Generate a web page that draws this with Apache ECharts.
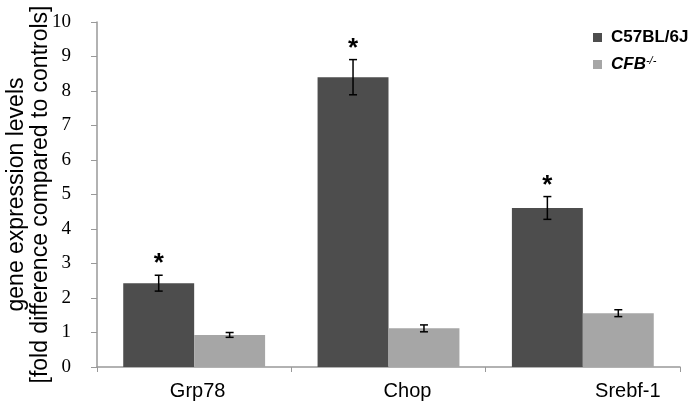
<!DOCTYPE html>
<html>
<head>
<meta charset="utf-8">
<script src="https://cdn.jsdelivr.net/npm/echarts@6/dist/echarts.min.js"></script>
<style>
  html, body { margin: 0; padding: 0; background: #fff; }
  #chart { width: 693px; height: 406px; }
</style>
</head>
<body>
<div id="chart"></div>
<script>
const categories = ['Grp78', 'Chop', 'Srebf-1'];
const labelShift = [7, 38, 90];   // Excel-style off-centre labels (left padding)
const wildType = [2.43, 8.40, 4.61];
const wildTypeErr = [0.23, 0.51, 0.33];
const knockout = [0.93, 1.12, 1.56];
const knockoutErr = [0.07, 0.10, 0.10];
const significant = [true, true, true];
const yTicks = [0, 1, 2, 3, 4, 5, 6, 7, 8, 9, 10];

const DARK = '#4d4d4d';
const LIGHT = '#a6a6a6';
const AXIS = '#999999';
const CAT_GAP = 0.27;

function errorBars(values, errs, side, stars) {
    return {
        type: 'custom',
        silent: true,
        z: 5,
        data: values.map((v, i) => [i, v, errs[i], stars ? (stars[i] ? 1 : 0) : 0]),
        renderItem: function(params, api) {
            const idx = api.value(0);
            const band = api.size([1, 0])[0];
            const bw = band * (1 - CAT_GAP) / 2;
            const c = api.coord([idx, 0]);
            const x = c[0] + side * bw / 2;
            const top = api.coord([idx, api.value(1) + api.value(2)])[1];
            const bot = api.coord([idx, api.value(1) - api.value(2)])[1];
            const cap = 4;
            const st = { stroke: '#000', lineWidth: 1.5 };
            const children = [
                { type: 'line', shape: { x1: x, y1: top, x2: x, y2: bot }, style: st },
                { type: 'line', shape: { x1: x - cap, y1: top, x2: x + cap, y2: top }, style: st },
                { type: 'line', shape: { x1: x - cap, y1: bot, x2: x + cap, y2: bot }, style: st }
            ];
            if (api.value(3)) {
                children.push({
                    type: 'text',
                    style: {
                        text: '*', x: x, y: top - 11,
                        fill: '#000', font: 'bold 26px "Liberation Sans", Arial, sans-serif',
                        align: 'center', verticalAlign: 'middle'
                    }
                });
            }
            return { type: 'group', children: children };
        }
    };
}

const chart = echarts.init(document.getElementById('chart'));

chart.setOption({
    backgroundColor: '#fff',
    animation: false,
    grid: { left: 97, right: 13, top: 22, bottom: 39, containLabel: false, outerBoundsMode: 'none' },
    legend: {
        orient: 'vertical',
        left: 588,
        top: 24,
        itemWidth: 9,
        itemHeight: 9,
        itemGap: 9,
        icon: 'rect',
        data: ['C57BL/6J', 'CFB'],
        formatter: function(name) {
            return name === 'CFB' ? '{i|CFB}{s|-/-}' : '{b|' + name + '}';
        },
        textStyle: {
            color: '#000',
            padding: [0, 0, 0, 4],
            rich: {
                b: { fontFamily: '"Liberation Sans", Arial', fontWeight: 'bold', fontSize: 17, color: '#000' },
                i: { fontFamily: '"Liberation Sans", Arial', fontWeight: 'bold', fontStyle: 'italic', fontSize: 17, color: '#000' },
                s: { fontFamily: '"Liberation Sans", Arial', fontStyle: 'italic', fontSize: 11, color: '#000', verticalAlign: 'top', padding: [0, 0, 8, 0] }
            }
        }
    },
    xAxis: {
        type: 'category',
        data: categories.map((c, i) => ({ value: c, textStyle: { padding: [0, 0, 0, labelShift[i]] } })),
        axisLine: { lineStyle: { color: AXIS, width: 1.5 } },
        axisTick: { show: true, length: 5, lineStyle: { color: AXIS } },
        axisLabel: {
            margin: 14,
            color: '#000',
            fontSize: 20,
            fontFamily: '"Liberation Sans", Arial, sans-serif'
        }
    },
    yAxis: {
        type: 'value',
        min: yTicks[0],
        max: yTicks[yTicks.length - 1],
        interval: 1,
        name: 'gene expression levels\n[fold difference compared to controls]',
        nameLocation: 'middle',
        nameGap: 44,
        nameMoveOverlap: false,
        nameTextStyle: {
            color: '#000',
            fontSize: 23,
            lineHeight: 24,
            fontFamily: '"Liberation Sans", Arial, sans-serif'
        },
        axisLine: { show: true, lineStyle: { color: AXIS, width: 1.5 } },
        axisTick: { show: true, length: 6, lineStyle: { color: AXIS } },
        axisLabel: {
            margin: 26,
            color: '#000',
            fontSize: 19,
            fontFamily: '"Liberation Serif", "Times New Roman", serif'
        },
        splitLine: { show: false }
    },
    series: [
        {
            name: 'C57BL/6J',
            type: 'bar',
            data: wildType,
            barGap: '0%',
            barCategoryGap: (CAT_GAP * 100) + '%',
            itemStyle: { color: DARK }
        },
        {
            name: 'CFB',
            type: 'bar',
            data: knockout,
            barGap: '0%',
            barCategoryGap: (CAT_GAP * 100) + '%',
            itemStyle: { color: LIGHT }
        },
        errorBars(wildType, wildTypeErr, -1, significant),
        errorBars(knockout, knockoutErr, 1, null)
    ]
});
</script>
</body>
</html>
